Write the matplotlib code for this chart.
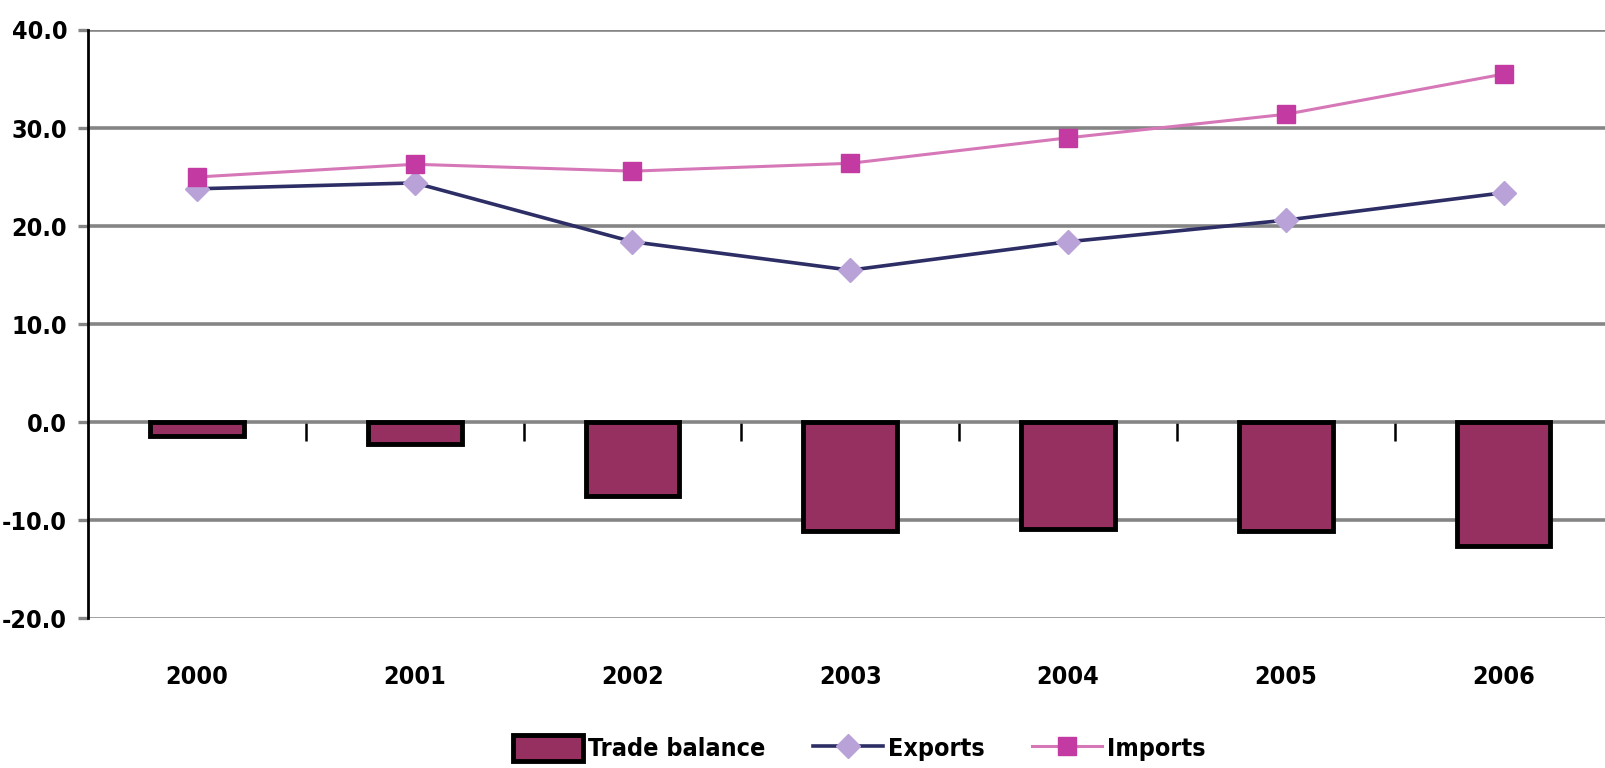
import numpy as np
import matplotlib
matplotlib.use('Agg')
import matplotlib.pyplot as plt
from matplotlib import font_manager

years = ['2000', '2001', '2002', '2003', '2004', '2005', '2006']
trade_balance = [-1.4, -2.2, -7.5, -11.1, -10.9, -11.1, -12.6]
exports = [23.8, 24.4, 18.4, 15.5, 18.4, 20.6, 23.4]
imports = [25.0, 26.3, 25.6, 26.4, 29.0, 31.4, 35.5]
y_ticks = [-20, -10, 0, 10, 20, 30, 40]

# condensed bold font if there is one
names = set(f.name for f in font_manager.fontManager.ttflist)
fam = 'Liberation Sans Narrow' if 'Liberation Sans Narrow' in names else 'DejaVu Sans'
plt.rcParams['font.family'] = [fam, 'DejaVu Sans']
plt.rcParams['font.weight'] = 'bold'
plt.rcParams['font.stretch'] = 'condensed'

fig = plt.figure(figsize=(16.06, 7.68), dpi=100)
ax = fig.add_axes([0.0548, 0.195, 0.9452, 0.766])

x = np.arange(len(years))
ax.set_ylim(-20, 40)
ax.set_xlim(-0.5, 6.47)

for yv in y_ticks:
    ax.axhline(yv, color='#858585', lw=2.6 if yv > -20 else 1.8, zorder=1)

b = ax.bar(x, trade_balance, width=0.43, color='#963060', edgecolor='black',
           linewidth=3.5, zorder=3, label='Trade balance')
l1, = ax.plot(x, exports, color='#2E2E66', lw=2.6, marker='D', markersize=12,
              markerfacecolor='#B8A2D8', markeredgecolor='#B8A2D8', zorder=4,
              label='Exports')
l2, = ax.plot(x, imports, color='#D677B8', lw=2.2, marker='s', markersize=13,
              markerfacecolor='#C33AA3', markeredgecolor='#C33AA3', zorder=5,
              label='Imports')

for s in ['top', 'right', 'bottom']:
    ax.spines[s].set_visible(False)
ax.spines['left'].set_linewidth(2)
ax.spines['left'].set_color('black')

ax.set_yticks(y_ticks)
ax.set_yticklabels(['%.1f' % v for v in y_ticks], fontsize=18)
ax.tick_params(axis='y', length=7, width=2.4, color='#858585', pad=8)
ax.set_xticks(x)
ax.set_xticklabels(years, fontsize=18)
ax.tick_params(axis='x', length=0, pad=34)

# category separator ticks on the zero line
zero_pos = (0 - (-20)) / 60.0
sec = ax.secondary_xaxis(zero_pos)
sec.set_xticks(np.arange(0.5, 6, 1))
sec.set_xticklabels([])
sec.tick_params(length=14, width=1.8, color='black', direction='out')
sec.spines['bottom'].set_visible(False)

fig.legend([b, l1, l2], ['Trade balance', 'Exports', 'Imports'],
           loc='center', bbox_to_anchor=(0.535, 0.026), ncol=3, frameon=False,
           fontsize=18, handlelength=2.8, handleheight=1.2, columnspacing=1.9,
           handletextpad=0.2)

fig.savefig('out.png', dpi=100)
